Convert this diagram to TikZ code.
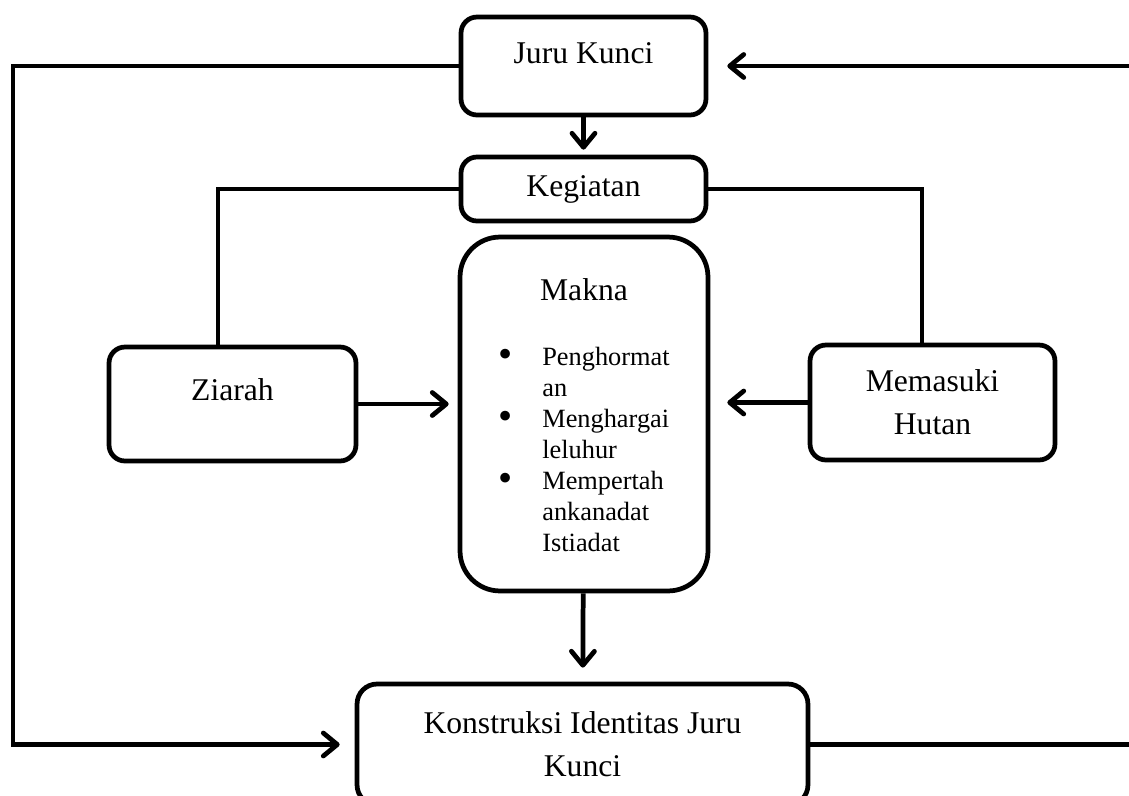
\documentclass[tikz,border=0pt]{standalone}
\usepackage{fontspec}
\setmainfont{Liberation Serif}
\usetikzlibrary{positioning,arrows.meta,calc}
\newcommand{\bigtxt}{\fontsize{18}{24.4}\selectfont}
\newcommand{\smalltxt}{\fontsize{15}{17.6}\selectfont}
\newcommand{\dotmark}{\raisebox{-1.2pt}{\fontsize{23}{23}\selectfont\textbullet}}

\begin{document}
\begin{tikzpicture}[x=0.02cm,y=-0.02cm,
   box/.style={draw,line width=2.7pt,rounded corners=0.32cm,inner sep=0pt,
     align=center,font=\bigtxt},
   link/.style={line width=2.7pt},
   arr/.style={link,-{Straight Barb[length=2.8mm,width=4.6mm,round]}}]
 \useasboundingbox (0,0) rectangle (1129,795);
 % boxes
 \node[box,minimum width=4.9cm,text height=0.92cm,text depth=1.04cm] (juru) at (583.5,66) {Juru Kunci};
 \node[box,minimum width=4.9cm,minimum height=1.28cm] (kegiatan) at (583.5,189) {Kegiatan};
 \node[box,minimum width=4.96cm,minimum height=7.08cm,rounded corners=0.8cm] (makna) at (584,414)
   {\smalltxt\begin{tabular}{@{}l@{\hspace{17pt}}l@{}}
     \multicolumn{2}{c}{\rule{0pt}{18.6pt}\bigtxt Makna}\\[19.5pt]
     \dotmark & Penghormat\\
              & an\\
     \dotmark & Menghargai\\
              & leluhur\\
     \dotmark & Mempertah\\
              & ankanadat\\
              & Istiadat
   \end{tabular}};
 \node[box,minimum width=4.94cm,text height=1.06cm,text depth=1.22cm] (ziarah) at (232.5,404) {Ziarah};
 \node[box,minimum width=4.9cm,minimum height=2.3cm] (memasuki) at (932.5,402.5) {Memasuki\\Hutan};
 \node[box,minimum width=9.02cm,minimum height=2.42cm,rounded corners=0.4cm] (konstruksi) at (582.5,744.5)
   {Konstruksi Identitas Juru\\Kunci};
 % outer loop ends
 \coordinate (leftx) at (13,0);
 \coordinate (rightx) at (1134,0);
 % connectors
 \draw[arr,shorten >=0.1cm] (juru) -- (kegiatan);
 \draw[link] (kegiatan.west) -| ([xshift=-0.29cm]ziarah.north);
 \draw[link] (kegiatan.east) -| ([xshift=-0.21cm]memasuki.north);
 \draw[arr,shorten >=0.18cm] (ziarah.east) -- (ziarah.east -| makna.west);
 \draw[arr,shorten >=0.34cm] (memasuki.west) -- (memasuki.west -| makna.east);
 \draw[arr,shorten >=0.28cm] (makna) -- (konstruksi);
 \draw[arr,shorten >=0.3cm] (juru.west) -- (juru.west -| leftx) |- (konstruksi.west);
 \draw[arr,shorten >=0.38cm] (konstruksi.east) -- (konstruksi.east -| rightx) |- (juru.east);
\end{tikzpicture}
\end{document}
